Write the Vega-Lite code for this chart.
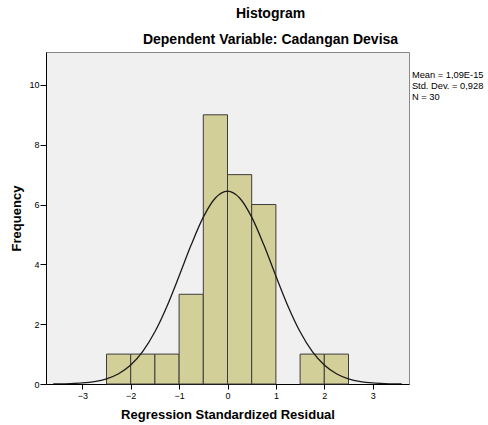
{
  "$schema": "https://vega.github.io/schema/vega-lite/v6.json",
  "width": 363,
  "height": 332,
  "autosize": {"type": "none"},
  "padding": {"left": 46, "top": 52, "right": 79, "bottom": 41},
  "background": "white",
  "config": {
    "font": "Liberation Sans",
    "view": {"fill": "#F0F0F0", "stroke": "#888888", "strokeWidth": 1},
    "axis": {"grid": false, "domain": true, "domainColor": "#000000", "tickColor": "#000000", "labelColor": "#000000", "titleColor": "#000000", "labelFont": "Liberation Sans", "titleFont": "Liberation Sans", "labelFontSize": 10, "titleFontSize": 13, "titleFontWeight": "bold"}
  },
  "title": {
    "text": "Histogram",
    "subtitle": "Dependent Variable: Cadangan Devisa",
    "anchor": "middle",
    "dx": 43,
    "offset": 5,
    "font": "Liberation Sans",
    "fontSize": 14,
    "fontWeight": "bold",
    "color": "#000000",
    "subtitleFont": "Liberation Sans",
    "subtitleFontSize": 14,
    "subtitleFontWeight": "bold",
    "subtitleColor": "#000000",
    "subtitlePadding": 12
  },
  "datasets": {
    "bars": [
      {"start": -2.5, "end": -2.0, "count": 1},
      {"start": -2.0, "end": -1.5, "count": 1},
      {"start": -1.5, "end": -1.0, "count": 1},
      {"start": -1.0, "end": -0.5, "count": 3},
      {"start": -0.5, "end": 0.0, "count": 9},
      {"start": 0.0, "end": 0.5, "count": 7},
      {"start": 0.5, "end": 1.0, "count": 6},
      {"start": 1.5, "end": 2.0, "count": 1},
      {"start": 2.0, "end": 2.5, "count": 1}
    ],
    "curve": [
      {"x": -3.6, "y": 0.0035},
      {"x": -3.5, "y": 0.0053},
      {"x": -3.25, "y": 0.014},
      {"x": -3.0, "y": 0.0347},
      {"x": -2.75, "y": 0.0799},
      {"x": -2.5, "y": 0.171},
      {"x": -2.25, "y": 0.341},
      {"x": -2.0, "y": 0.632},
      {"x": -1.75, "y": 1.090},
      {"x": -1.5, "y": 1.746},
      {"x": -1.25, "y": 2.603},
      {"x": -1.0, "y": 3.609},
      {"x": -0.75, "y": 4.652},
      {"x": -0.5, "y": 5.578},
      {"x": -0.25, "y": 6.219},
      {"x": 0.0, "y": 6.449},
      {"x": 0.25, "y": 6.219},
      {"x": 0.5, "y": 5.578},
      {"x": 0.75, "y": 4.652},
      {"x": 1.0, "y": 3.609},
      {"x": 1.25, "y": 2.603},
      {"x": 1.5, "y": 1.746},
      {"x": 1.75, "y": 1.090},
      {"x": 2.0, "y": 0.632},
      {"x": 2.25, "y": 0.341},
      {"x": 2.5, "y": 0.171},
      {"x": 2.75, "y": 0.0799},
      {"x": 3.0, "y": 0.0347},
      {"x": 3.25, "y": 0.014},
      {"x": 3.5, "y": 0.0053},
      {"x": 3.6, "y": 0.0035}
    ],
    "stats": [
      {"x": 3.81, "y": 10.33, "label": "Mean = 1,09E-15"},
      {"x": 3.81, "y": 9.97, "label": "Std. Dev. = 0,928"},
      {"x": 3.81, "y": 9.6, "label": "N = 30"}
    ]
  },
  "layer": [
    {
      "data": {"name": "bars"},
      "mark": {"type": "rect", "fill": "#D3CF98", "stroke": "#3C3C3C", "strokeWidth": 1},
      "encoding": {
        "x": {"field": "start", "type": "quantitative", "scale": {"domain": [-3.75, 3.75], "nice": false, "zero": false}, "axis": {"values": [-3, -2, -1, 0, 1, 2, 3], "title": "Regression Standardized Residual", "tickSize": 5, "labelPadding": 2, "titlePadding": 8, "labelFontSize": 9}},
        "x2": {"field": "end"},
        "y": {"field": "count", "type": "quantitative", "scale": {"domain": [0, 11.1], "nice": false}, "axis": {"values": [0, 2, 4, 6, 8, 10], "title": "Frequency", "tickSize": 6, "labelPadding": 1, "titlePadding": 5, "labelFontSize": 9}},
        "y2": {"datum": 0}
      }
    },
    {
      "data": {"name": "curve"},
      "mark": {"type": "line", "color": "#1A1A1A", "strokeWidth": 1.3, "interpolate": "monotone", "clip": true},
      "encoding": {
        "x": {"field": "x", "type": "quantitative"},
        "y": {"field": "y", "type": "quantitative"}
      }
    },
    {
      "data": {"name": "stats"},
      "mark": {"type": "text", "align": "left", "baseline": "middle", "fontSize": 9.3, "font": "Liberation Sans", "color": "#000000"},
      "encoding": {
        "x": {"field": "x", "type": "quantitative"},
        "y": {"field": "y", "type": "quantitative"},
        "text": {"field": "label"}
      }
    }
  ]
}
